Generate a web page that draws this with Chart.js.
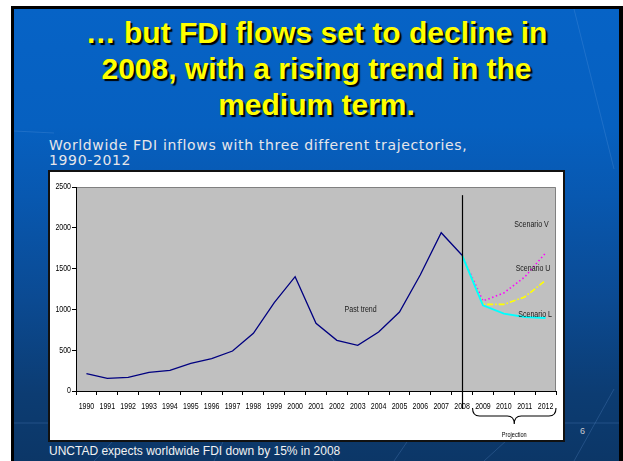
<!DOCTYPE html>
<html>
<head>
<meta charset="utf-8">
<script src="https://cdn.jsdelivr.net/npm/chart.js@4.4.1/dist/chart.umd.min.js"></script>
<style>
html,body{margin:0;padding:0;width:623px;height:461px;overflow:hidden;background:#fff;}
#frame{position:absolute;left:11px;top:6px;width:612px;height:470px;background:#000;}
#slide{position:absolute;left:14px;top:9px;width:605px;height:470px;overflow:hidden;
  background:linear-gradient(to bottom,#0663c6 0%,#0660c0 25%,#0858b0 40%,#0b4a92 62%,#0c3c72 82%,#0c3564 100%);}
#deco{position:absolute;left:14px;top:9px;width:605px;height:452px;}
#title{position:absolute;left:14px;top:15px;width:605px;text-align:center;
  font:bold 30px "Liberation Sans",Arial,sans-serif;line-height:36px;color:#ffff00;
  text-shadow:2px 2px 1px #000;}
#subtitle{position:absolute;left:49px;top:138px;font:14px "DejaVu Sans",Verdana,sans-serif;
  letter-spacing:0.65px;line-height:15px;color:#e6e6ea;}
#footer{position:absolute;left:49px;top:444px;font:12px "Liberation Sans",Arial,sans-serif;color:#f2f2f2;}
#pageno{position:absolute;left:580px;top:426px;font:9px "Liberation Sans",Arial,sans-serif;color:#c8c8d0;}
#box{position:absolute;left:48px;top:170px;width:513px;height:268px;border:2px solid #111;background:#fff;}
#chart{display:block;}
</style>
</head>
<body>
<div id="frame"></div>
<div id="slide"></div>
<svg id="deco" width="605" height="452">
  <g stroke="rgba(120,170,230,0.22)" stroke-width="1" fill="none">
    <line x1="0" y1="414" x2="605" y2="414"/>
    <line x1="0" y1="122" x2="40" y2="124"/>
    <line x1="80" y1="452" x2="120" y2="410"/>
    <line x1="200" y1="452" x2="215" y2="420"/>
    <line x1="320" y1="452" x2="300" y2="425"/>
    <line x1="380" y1="452" x2="395" y2="430"/>
    <line x1="470" y1="452" x2="505" y2="420"/>
    <line x1="560" y1="452" x2="600" y2="380"/>
    <line x1="560" y1="0" x2="600" y2="160"/>
  </g>
</svg>
<div id="title">… but FDI flows set to decline in<br>2008, with a rising trend in the<br>medium term.</div>
<div id="subtitle">Worldwide FDI inflows with three different trajectories,<br>1990-2012</div>
<div id="box"><canvas id="chart" width="513" height="268"></canvas></div>
<div id="pageno">6</div>
<div id="footer">UNCTAD expects worldwide FDI down by 15% in 2008</div>
<script>
// ---- data ----
const years = ['1990','1991','1992','1993','1994','1995','1996','1997','1998','1999','2000','2001','2002','2003','2004','2005','2006','2007','2008','2009','2010','2011','2012'];
const pastTrend = [212,155,167,229,253,339,396,490,707,1083,1401,829,621,560,723,968,1425,1940,1663,null,null,null,null];
const scenarioL = [null,null,null,null,null,null,null,null,null,null,null,null,null,null,null,null,null,null,1663,1050,948,907,895];
const scenarioU = [null,null,null,null,null,null,null,null,null,null,null,null,null,null,null,null,null,null,1663,1062,1062,1152,1356];
const scenarioV = [null,null,null,null,null,null,null,null,null,null,null,null,null,null,null,null,null,null,1663,1103,1201,1397,1691];
const yTickValues = [0,500,1000,1500,2000,2500];
const projectionFrom = '2008';
const projectionTo = '2012';
const projectionLabel = 'Projection';
// text labels placed in data coordinates (category index, value)
const labelTexts = ['Scenario V','Scenario U','Scenario L','Past trend'];
const labelIdx = [21.33, 21.4, 21.5, 13.14];
const labelVal = [2034, 1500, 940, 1001];

const FONT = '"Liberation Sans",Arial,sans-serif';
const SQUEEZE = 0.8; // narrow face look

function xAt(scale, idx){
  const i = Math.floor(idx), f = idx - i;
  const a = scale.getPixelForValue(i);
  const b = scale.getPixelForValue(i+1);
  return a + (b - a) * f;
}
function narrowText(ctx, text, px, py, align, baseline, sq){
  ctx.save();
  ctx.translate(px, py);
  ctx.scale(sq || SQUEEZE, 1);
  ctx.textAlign = align;
  ctx.textBaseline = baseline;
  ctx.fillText(text, 0, 0);
  ctx.restore();
}

const plotBg = {
  id:'plotBg',
  beforeDraw(chart){
    const {ctx, chartArea:a} = chart;
    ctx.save();
    ctx.fillStyle = '#c0c0c0';
    ctx.fillRect(a.left, a.top, a.right - a.left, a.bottom - a.top);
    ctx.strokeStyle = '#808080';
    ctx.lineWidth = 1;
    ctx.beginPath();
    ctx.moveTo(a.left, a.top + 0.5);
    ctx.lineTo(a.right - 0.5, a.top + 0.5);
    ctx.lineTo(a.right - 0.5, a.bottom);
    ctx.stroke();
    ctx.restore();
  }
};

const tickText = {
  id:'tickText',
  afterDraw(chart){
    const {ctx} = chart;
    const x = chart.scales.x, y = chart.scales.y;
    ctx.save();
    ctx.fillStyle = '#000';
    ctx.font = '9px ' + FONT;
    x.ticks.forEach((t, i) => {
      narrowText(ctx, x.getLabelForValue(t.value), x.getPixelForTick(i), y.bottom + 16, 'center', 'middle', 0.78);
    });
    y.ticks.forEach((t, i) => {
      narrowText(ctx, String(t.value), x.left - 5, y.getPixelForTick(i), 'right', 'middle', 0.78);
    });
    ctx.restore();
  }
};

const annotations = {
  id:'annotations',
  afterDatasetsDraw(chart){
    const {ctx} = chart;
    const x = chart.scales.x, y = chart.scales.y;
    ctx.save();
    // vertical divider at 2008
    const iFrom = years.indexOf(projectionFrom);
    const iTo = years.indexOf(projectionTo);
    const vx = Math.round(x.getPixelForValue(iFrom)) + 0.5;
    ctx.strokeStyle = '#000';
    ctx.lineWidth = 1.2;
    ctx.beginPath();
    ctx.moveTo(vx, y.getPixelForValue(2400));
    ctx.lineTo(vx, y.bottom + 18);
    ctx.stroke();
    // labels
    ctx.fillStyle = '#1a1a1a';
    ctx.font = '8.8px ' + FONT;
    labelTexts.forEach((t, k) => {
      narrowText(ctx, t, xAt(x, labelIdx[k]), y.getPixelForValue(labelVal[k]), 'center', 'middle');
    });
    // projection brace
    const half = (x.getPixelForValue(1) - x.getPixelForValue(0)) / 2;
    const x0 = x.getPixelForValue(iFrom) + half;
    const x1 = x.getPixelForValue(iTo) + half;
    const xc = (x0 + x1) / 2;
    const y0 = y.bottom + 17, y1 = y.bottom + 25, y2 = y.bottom + 33;
    const r = 7;
    ctx.strokeStyle = '#000';
    ctx.lineWidth = 1.1;
    ctx.beginPath();
    ctx.moveTo(x0, y0);
    ctx.quadraticCurveTo(x0, y1, x0 + r, y1);
    ctx.lineTo(xc - r, y1);
    ctx.quadraticCurveTo(xc, y1, xc, y2);
    ctx.quadraticCurveTo(xc, y1, xc + r, y1);
    ctx.lineTo(x1 - r, y1);
    ctx.quadraticCurveTo(x1, y1, x1, y0);
    ctx.stroke();
    ctx.fillStyle = '#000';
    ctx.font = '7px ' + FONT;
    narrowText(ctx, projectionLabel, xc, y.bottom + 44, 'center', 'middle');
    ctx.restore();
  }
};

new Chart(document.getElementById('chart'), {
  type:'line',
  data:{
    labels: years,
    datasets:[
      {label:'Past trend', data:pastTrend, borderColor:'#000080', borderWidth:1.3, pointRadius:0, tension:0},
      {label:'Scenario L', data:scenarioL, borderColor:'#00ffff', borderWidth:2, pointRadius:0, tension:0},
      {label:'Scenario U', data:scenarioU, borderColor:'#ffff00', borderWidth:1.6, borderDash:[6,2,1.5,2], pointRadius:0, tension:0},
      {label:'Scenario V', data:scenarioV, borderColor:'#ff00ff', borderWidth:1.6, borderDash:[1.5,2.5], pointRadius:0, tension:0}
    ]
  },
  options:{
    responsive:false,
    animation:false,
    events:[],
    layout:{padding:{left:0, top:15, right:7, bottom:0}},
    plugins:{legend:{display:false}, tooltip:{enabled:false}, title:{display:false}},
    scales:{
      x:{
        type:'category',
        offset:true,
        afterFit(s){ s.height = 49; },
        grid:{display:true, offset:true, drawOnChartArea:false, drawTicks:true, tickLength:4, color:'#000', lineWidth:1},
        border:{display:true, color:'#000', width:1},
        ticks:{autoSkip:false, maxRotation:0, minRotation:0, padding:7, color:'rgba(0,0,0,0)', font:{family:FONT, size:8}}
      },
      y:{
        min:0, max:2500,
        afterFit(s){ s.width = 26; },
        afterBuildTicks(s){ s.ticks = yTickValues.map(v => ({value:v})); },
        grid:{display:true, drawOnChartArea:false, drawTicks:true, tickLength:4, color:'#000', lineWidth:1},
        border:{display:true, color:'#000', width:1},
        ticks:{padding:1, color:'rgba(0,0,0,0)', font:{family:FONT, size:8}, callback:v => String(v)}
      }
    }
  },
  plugins:[plotBg, annotations, tickText]
});
</script>
</body>
</html>
